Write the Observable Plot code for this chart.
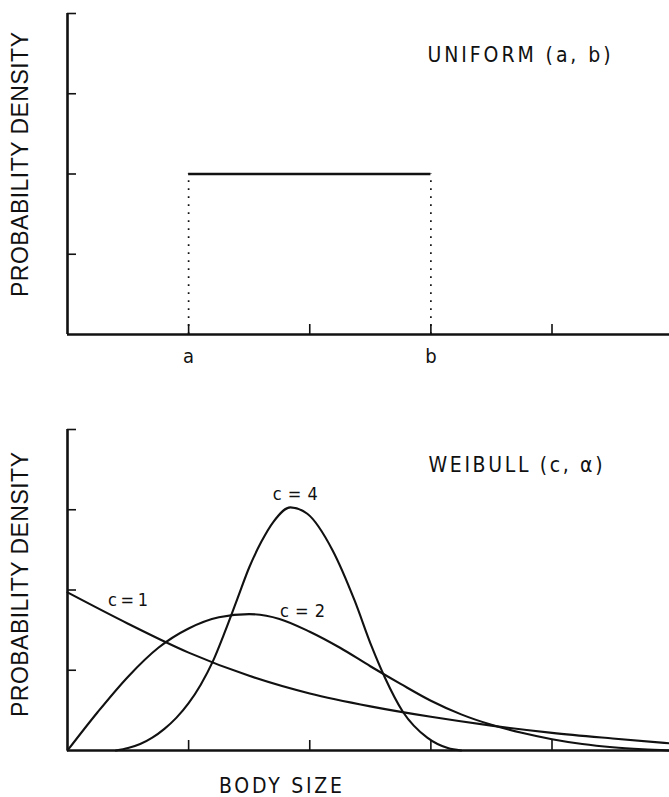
<!DOCTYPE html>
<html><head><meta charset="utf-8">
<script src="https://cdn.jsdelivr.net/npm/d3@7"></script>
<script src="https://cdn.jsdelivr.net/npm/@observablehq/plot@0.6"></script>
<style>
html,body{margin:0;padding:0;background:#fff;}
#chart{width:669px;}
#chart svg{display:block;}
</style></head><body><div id="chart"></div>
<script>
// ---- data ----
const xTicks = [1, 2, 3, 4];
const xTickLabels = ["a", "", "b", ""];
const yTicks = [1, 2, 3, 4];

const uniformBounds = [1, 3];     // a, b
const uniformDensity = [2];

const c1X = [0, 0.5, 1, 1.5, 2, 2.5, 3, 3.5, 4, 4.5, 4.97];
const c1Y = [1.97, 1.58, 1.22, 0.93, 0.71, 0.55, 0.42, 0.31, 0.22, 0.15, 0.09];

const c2X = [0, 0.25, 0.5, 0.75, 1, 1.25, 1.5, 1.75, 2, 2.25, 2.5, 2.75, 3, 3.25, 3.5, 3.75, 4, 4.25, 4.5, 4.75, 4.97];
const c2Y = [0, 0.48, 0.92, 1.28, 1.52, 1.66, 1.70, 1.64, 1.48, 1.28, 1.05, 0.83, 0.62, 0.45, 0.32, 0.22, 0.14, 0.08, 0.04, 0.015, 0];

const c4X = [0.4, 0.5, 0.6, 0.7, 0.8, 0.9, 1.0, 1.1, 1.2, 1.3, 1.4, 1.5, 1.6, 1.7, 1.84, 1.98, 2.19, 2.37, 2.51, 2.62, 2.77, 2.97, 3.14, 3.25];
const c4Y = [0, 0.03, 0.08, 0.16, 0.27, 0.41, 0.59, 0.82, 1.11, 1.48, 1.88, 2.28, 2.6, 2.85, 3.03, 2.95, 2.49, 1.87, 1.3, 0.91, 0.48, 0.16, 0.03, 0];

const curveLabels = ["c = 1", "c = 2", "c = 4"];
const curveLabelX = [0.5, 1.94, 1.88];
const curveLabelY = [1.87, 1.74, 3.19];

const titleTop = "UNIFORM (a, b)";
const titleBottom = "WEIBULL (c, α)";
const yLabel = "PROBABILITY DENSITY";
const xLabel = "BODY SIZE";

// ---- build tables ----
const toRows = (xs, ys, c) => xs.map((x, i) => ({x, y: ys[i], c}));
const curves = [toRows(c1X, c1Y, 1), toRows(c2X, c2Y, 2), toRows(c4X, c4Y, 4)];
const labels = curveLabels.map((t, i) => ({t, x: curveLabelX[i], y: curveLabelY[i]}));

const narrow = "'Liberation Sans Narrow', 'DejaVu Sans Condensed', sans-serif";
const sans = "'Liberation Sans', Arial, sans-serif";
const INK = "#111";

function frameMarks() {
  return [
    Plot.axisY({ticks: yTicks, tickSize: -9, text: null, label: null, strokeWidth: 1.6, stroke: INK}),
    Plot.ruleY([0], {strokeWidth: 2.6, stroke: INK}),
    Plot.ruleX([0], {y1: 0, y2: 4, strokeWidth: 2.6, stroke: INK}),
    Plot.axisX({ticks: xTicks, tickSize: -10, text: null, label: null, strokeWidth: 1.6, stroke: INK}),
  ];
}

const common = {
  width: 669,
  marginLeft: 67,
  marginRight: 0,
  x: {domain: [0, 4.97]},
  y: {domain: [0, 4]},
  style: {background: "white", overflow: "visible", color: INK}
};

const topPanel = Plot.plot({
  ...common,
  height: 376,
  marginTop: 13,
  marginBottom: 42,
  marks: [
    Plot.ruleX(uniformBounds, {y1: 0, y2: uniformDensity[0], strokeWidth: 1.7, strokeDasharray: "1.7 6.3", stroke: INK}),
    Plot.ruleY(uniformDensity, {x1: uniformBounds[0], x2: uniformBounds[1], strokeWidth: 2.6, stroke: INK}),
    ...frameMarks(),
    Plot.axisX({ticks: xTicks, tickSize: 0, tickPadding: 14, label: null, tickFormat: (d, i) => xTickLabels[i], fontSize: 20, fontFamily: narrow, fill: INK}),
    Plot.text([titleTop], {frameAnchor: "top-left", dx: 360, dy: 42, textAnchor: "start", lineAnchor: "middle", fontSize: 21, fontFamily: narrow, fill: INK}),
    Plot.text([yLabel], {frameAnchor: "left", dx: -47, dy: -9.5, rotate: -90, textAnchor: "middle", lineAnchor: "middle", fontSize: 23, fontFamily: sans, fill: INK})
  ]
});

const bottomPanel = Plot.plot({
  ...common,
  height: 421,
  marginTop: 53,
  marginBottom: 47,
  marks: [
    ...curves.map(rows => Plot.line(rows, {x: "x", y: "y", curve: "monotone-x", strokeWidth: 2.1, stroke: INK})),
    ...frameMarks(),
    Plot.text(labels, {x: "x", y: "y", text: "t", fontSize: 18, fontFamily: narrow, fill: INK}),
    Plot.text([titleBottom], {frameAnchor: "top-left", dx: 361, dy: 36, textAnchor: "start", lineAnchor: "middle", fontSize: 21, fontFamily: narrow, fill: INK}),
    Plot.text([xLabel], {frameAnchor: "bottom", dx: -88, dy: 36, textAnchor: "middle", lineAnchor: "middle", fontSize: 21, fontFamily: narrow, fill: INK}),
    Plot.text([yLabel], {frameAnchor: "left", dx: -47, dy: -5.5, rotate: -90, textAnchor: "middle", lineAnchor: "middle", fontSize: 23, fontFamily: sans, fill: INK})
  ]
});

const chart = document.getElementById("chart");
chart.append(topPanel, bottomPanel);

// stretch lettering to the spacing of the original
const lengths = {
  [titleTop]: 183, [titleBottom]: 174, [yLabel]: 265, [xLabel]: 123,
  "c = 1": 40, "c = 2": 45, "c = 4": 45
};
chart.querySelectorAll("text").forEach(t => {
  const L = lengths[t.textContent];
  if (L) { t.setAttribute("textLength", L); t.setAttribute("lengthAdjust", "spacing"); }
});
</script></body></html>
